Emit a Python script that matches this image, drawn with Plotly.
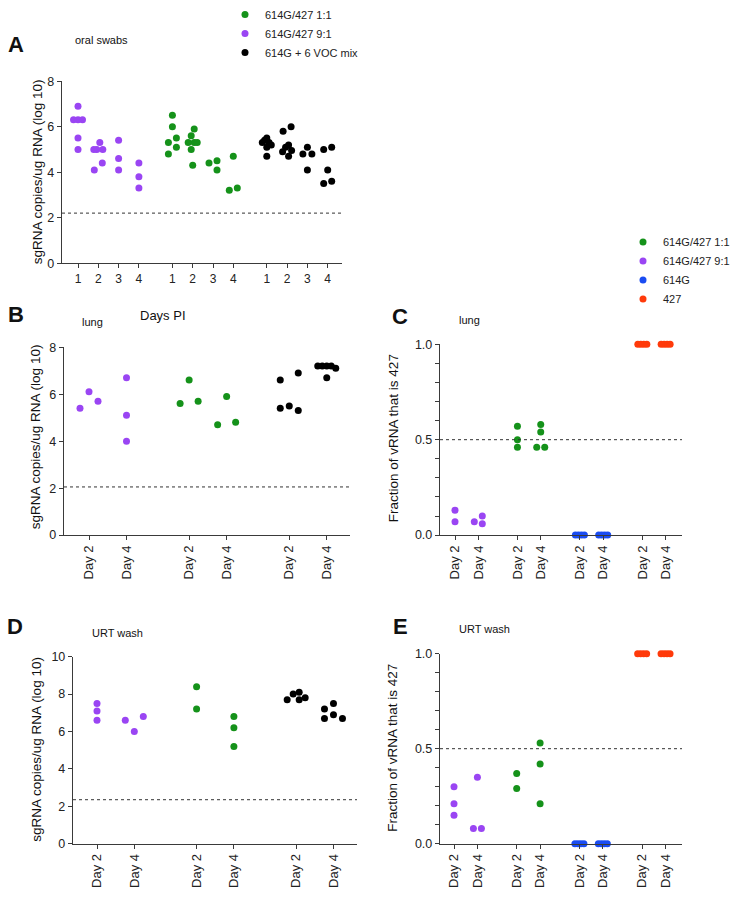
import plotly.graph_objects as go

W, H = 743, 900

# ---------------- categories / labels ----------------
days_A = ["1", "2", "3", "4"]
days_LE = ["Day 2", "Day 4"]

lab_11 = "614G/427 1:1"
lab_91 = "614G/427 9:1"
lab_mix = "614G + 6 VOC mix"
lab_614 = "614G"
lab_427 = "427"

# ---------------- panel A: oral swabs (log10 sgRNA), days 1-4 ----------------
A_91 = [[6.9, 6.3, 6.3, 6.3, 5.5, 5.0], [5.3, 5.0, 5.0, 5.0, 4.4, 4.1], [5.4, 4.6, 4.1], [4.4, 3.8, 3.3]]
A_11 = [[6.5, 6.0, 5.5, 5.3, 5.1, 4.8], [5.9, 5.6, 5.3, 5.3, 5.3, 5.0, 4.3], [4.5, 4.4, 4.1], [4.7, 3.3, 3.2]]
A_mix = [[5.5, 5.4, 5.3, 5.3, 5.2, 5.1, 4.7], [6.0, 5.8, 5.2, 5.1, 4.95, 4.9, 4.7],
         [5.1, 4.8, 4.8, 4.1], [5.1, 5.0, 4.1, 3.6, 3.5]]
A_lod = 2.2

# ---------------- panel B: lung (log10 sgRNA) ----------------
B_91 = [[5.4, 6.1, 5.7], [6.7, 5.1, 4.0]]
B_11 = [[5.6, 6.6, 5.7], [4.7, 5.9, 4.8]]
B_mix = [[6.9, 6.6, 5.3, 5.5, 5.4], [7.2, 7.2, 7.2, 7.2, 7.1, 6.7]]
B_lod = 2.05

# ---------------- panel C: lung fraction 427 ----------------
C_91 = [[0.13, 0.07], [0.10, 0.06, 0.07]]
C_11 = [[0.57, 0.50, 0.46], [0.54, 0.58, 0.46, 0.46]]
C_614 = [[0.0, 0.0, 0.0, 0.0], [0.0, 0.0, 0.0, 0.0]]
C_427 = [[1.0, 1.0, 1.0, 1.0], [1.0, 1.0, 1.0, 1.0]]
C_ref = 0.5

# ---------------- panel D: URT wash (log10 sgRNA) ----------------
D_91 = [[7.5, 7.1, 6.6], [6.8, 6.0, 6.6]]
D_11 = [[8.4, 7.2], [6.8, 6.2, 5.2]]
D_mix = [[8.1, 8.0, 7.8, 7.7, 7.7], [7.5, 7.2, 6.9, 6.7, 6.7]]
D_lod = 2.35

# ---------------- panel E: URT wash fraction 427 ----------------
E_91 = [[0.30, 0.21, 0.15], [0.35, 0.08, 0.08]]
E_11 = [[0.37, 0.29], [0.53, 0.42, 0.21]]
E_614 = [[0.0, 0.0, 0.0, 0.0], [0.0, 0.0, 0.0, 0.0]]
E_427 = [[1.0, 1.0, 1.0, 1.0], [1.0, 1.0, 1.0, 1.0]]
E_ref = 0.5

# ---------------- styles ----------------
COL = {lab_91: "#9a45f3", lab_11: "#15921a", lab_mix: "#000000",
       lab_614: "#1a4cf2", lab_427: "#ff3a0a"}
AX = "#3a3a3a"
FONT = "Arial, Liberation Sans, Helvetica, sans-serif"
MS = 7

# panel geometry in pixels
panels = [
    dict(key="A", xid="x", yid="y", x=(62, 342), y=(72, 256), yr=(0, 8), ytv=[0, 2, 4, 6, 8],
         first=78, step=20.3, gap=4.65, cats=days_A, rot=0, s=8, cap=9, vth=7,
         groups=[(lab_91, A_91), (lab_11, A_11), (lab_mix, A_mix)], line=A_lod, leg="legend"),
    dict(key="B", xid="x2", yid="y2", x=(64, 350), y=(341, 531), yr=(0, 8), ytv=[0, 2, 4, 6, 8],
         first=89, step=37.5, gap=2.67, cats=days_LE, rot=-90, s=18, cap=18, vth=8.5,
         groups=[(lab_91, B_91), (lab_11, B_11), (lab_mix, B_mix)], line=B_lod, leg=None),
    dict(key="C", xid="x3", yid="y3", x=(440, 682), y=(338, 531), yr=(0, 1), ytv=[0, 0.5, 1.0],
         first=455, step=23.3, gap=2.68, cats=days_LE, rot=-90, s=8, cap=9, vth=7,
         groups=[(lab_91, C_91), (lab_11, C_11), (lab_614, C_614), (lab_427, C_427)],
         line=C_ref, leg="legend2"),
    dict(key="D", xid="x4", yid="y4", x=(73, 357), y=(654, 843), yr=(0, 10), ytv=[0, 2, 4, 6, 8, 10],
         first=97, step=37.3, gap=2.67, cats=days_LE, rot=-90, s=18, cap=18, vth=7,
         groups=[(lab_91, D_91), (lab_11, D_11), (lab_mix, D_mix)], line=D_lod, leg=None),
    dict(key="E", xid="x5", yid="y5", x=(440, 682), y=(651, 843), yr=(0, 1), ytv=[0, 0.5, 1.0],
         first=454, step=23.4, gap=2.68, cats=days_LE, rot=-90, s=8, cap=9, vth=7,
         groups=[(lab_91, E_91), (lab_11, E_11), (lab_614, E_614), (lab_427, E_427)],
         line=E_ref, leg=None),
]

RANK = {lab_11: 1, lab_91: 2, lab_mix: 3, lab_614: 3, lab_427: 4}


def swarm(vals, ypp, s, cap, vth):
    """Prism-like scatter spreading; returns horizontal pixel offsets."""
    n = len(vals)
    if n == 0:
        return []
    order = sorted(range(n), key=lambda i: -vals[i])
    ys = [v * ypp for v in vals]
    comps, cur = [], [order[0]]
    for a, b in zip(order, order[1:]):
        if ys[a] - ys[b] < vth:
            cur.append(b)
        else:
            comps.append(cur)
            cur = [b]
    comps.append(cur)
    off = [0.0] * n
    cands = [0]
    for k in range(1, 10):
        cands += [-k, k]
    for comp in comps:
        slots = {}
        for i in comp:
            for c in cands:
                if all(not (slots[j] == c and abs(ys[j] - ys[i]) < vth) for j in slots):
                    slots[i] = c
                    break
        lo, hi = min(slots.values()), max(slots.values())
        mid = (lo + hi) / 2
        span = (hi - lo) * s
        f = 1.0 if span <= cap or span == 0 else cap / span
        for i, k in slots.items():
            off[i] = (k - mid) * s * f
    return off


fig = go.Figure()
layout = dict(width=W, height=H, margin=dict(l=0, r=0, t=0, b=0),
              paper_bgcolor="white", plot_bgcolor="white",
              font=dict(family=FONT, color="#222"), showlegend=True)
shapes, annotations = [], []

for p in panels:
    x0, x1 = p["x"]
    ytop, ybot = p["y"]
    ypp = (ybot - ytop) / (p["yr"][1] - p["yr"][0])
    tickvals, ticktext = [], []
    for g, (lab, series) in enumerate(p["groups"]):
        xs, ys = [], []
        for d, vals in enumerate(series):
            base = g * p["gap"] + d
            offs = swarm(vals, ypp, p["s"], p["cap"], p["vth"])
            for v, o in zip(vals, offs):
                xs.append(base + o / p["step"])
                ys.append(v)
        for d, c in enumerate(p["cats"]):
            tickvals.append(g * p["gap"] + d)
            ticktext.append(c)
        tr = dict(x=xs, y=ys, mode="markers", name=lab,
                  marker=dict(size=MS, color=COL[lab], line=dict(width=0)),
                  xaxis=p["xid"], yaxis=p["yid"], cliponaxis=False,
                  showlegend=p["leg"] is not None, legendrank=RANK[lab])
        if p["leg"] is not None:
            tr["legend"] = p["leg"]
        fig.add_trace(go.Scatter(**tr))

    xname = "xaxis" if p["xid"] == "x" else "xaxis" + p["xid"][1:]
    yname = "yaxis" if p["yid"] == "y" else "yaxis" + p["yid"][1:]
    layout[xname] = dict(
        domain=[x0 / W, x1 / W],
        range=[(x0 - p["first"]) / p["step"], (x1 - p["first"]) / p["step"]],
        tickvals=tickvals, ticktext=ticktext, tickangle=p["rot"],
        showline=True, linecolor=AX, linewidth=1.4, ticks="outside", ticklen=4,
        tickwidth=1.4, tickcolor=AX, showgrid=False, zeroline=False,
        tickfont=dict(size=13 if p["rot"] else 12, color="#222"),
        anchor=p["yid"], fixedrange=True, automargin=False)
    yax = dict(
        domain=[1 - ybot / H, 1 - ytop / H], range=list(p["yr"]),
        tickvals=p["ytv"], showline=True, linecolor=AX, linewidth=1.4,
        ticks="outside", ticklen=4, tickwidth=1.4, tickcolor=AX,
        showgrid=False, zeroline=False, tickfont=dict(size=12.5, color="#222"),
        anchor=p["xid"], fixedrange=True, automargin=False)
    if p["yr"][1] == 1:
        yax["tickformat"] = ".1f"
        yax["minor"] = dict(dtick=0.1, ticks="outside", ticklen=4, tickwidth=1.4,
                            tickcolor=AX, showgrid=False)
    layout[yname] = yax
    shapes.append(dict(type="line", xref=p["xid"] + " domain", yref=p["yid"],
                       x0=0, x1=1, y0=p["line"], y1=p["line"],
                       line=dict(color="#333", width=1, dash="dot")))


def ann(text, x, y, size, bold=False, angle=0):
    annotations.append(dict(text=f"<b>{text}</b>" if bold else text,
                            x=x / W, y=1 - y / H, xref="paper", yref="paper",
                            xanchor="center", yanchor="middle", showarrow=False,
                            textangle=angle, font=dict(size=size, family=FONT, color="#111")))


# panel letters and sample labels
ann("A", 16, 35, 22, bold=True)
ann("oral swabs", 101, 30, 11)
ann("B", 16, 308, 22, bold=True)
ann("Days PI", 163, 309, 13)
ann("lung", 93, 315, 11)
ann("C", 400, 310, 22, bold=True)
ann("lung", 469, 313, 11)
ann("D", 15, 623, 22, bold=True)
ann("URT wash", 117, 630, 11)
ann("E", 400, 623, 22, bold=True)
ann("URT wash", 484, 626, 11)
# y axis titles
ann("sgRNA copies/ug RNA (log 10)", 37, 164, 13.5, angle=-90)
ann("sgRNA copies/ug RNA (log 10)", 35, 432, 13.5, angle=-90)
ann("Fraction of vRNA that is 427", 393, 433, 13.5, angle=-90)
ann("sgRNA copies/ug RNA (log 10)", 37, 748, 13.5, angle=-90)
ann("Fraction of vRNA that is 427", 393, 746, 13.5, angle=-90)

leg_common = dict(xanchor="left", yanchor="top", bgcolor="rgba(0,0,0,0)",
                  borderwidth=0, itemsizing="trace", tracegroupgap=0,
                  font=dict(size=11, family=FONT, color="#222"),
                  traceorder="normal", itemclick=False, itemdoubleclick=False)
layout["legend"] = dict(x=225 / W, y=1 + 10 / H, **leg_common)
layout["legend2"] = dict(x=623 / W, y=1 - 220 / H, **leg_common)
layout["shapes"] = shapes
layout["annotations"] = annotations
fig.update_layout(**layout)

fig.write_html(
    "out.html",
    config={"displayModeBar": False},
    post_script=("document.documentElement.style.margin='0';"
                 "document.documentElement.style.overflow='hidden';"
                 "document.body.style.margin='0';document.body.style.padding='0';"
                 "document.body.style.overflow='hidden';"))
